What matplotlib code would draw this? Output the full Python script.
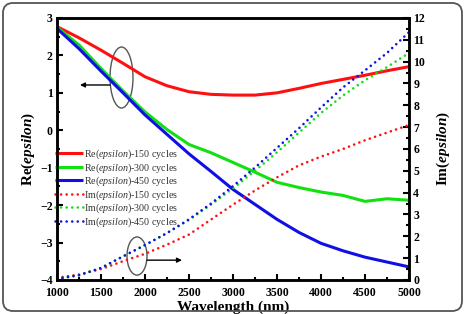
import matplotlib
matplotlib.use("Agg")
import matplotlib.pyplot as plt
from matplotlib.patches import Ellipse, FancyBboxPatch
from matplotlib.ticker import MultipleLocator

plt.rcParams['font.family'] = ['Liberation Serif', 'DejaVu Serif']
plt.rcParams['mathtext.fontset'] = 'custom'
plt.rcParams['mathtext.rm'] = 'Liberation Serif'
plt.rcParams['mathtext.it'] = 'Liberation Serif:italic'
plt.rcParams['mathtext.bf'] = 'Liberation Serif:bold'
plt.rcParams['mathtext.bfit'] = 'Liberation Serif:bold:italic'

# ---- data ----
wavelength = [1000, 1250, 1500, 1750, 2000, 2250, 2500, 2750, 3000,
              3250, 3500, 3750, 4000, 4250, 4500, 4750, 5000]
re_150 = [2.77, 2.47, 2.14, 1.79, 1.43, 1.19, 1.03, 0.96, 0.94,
          0.94, 1.00, 1.12, 1.25, 1.36, 1.47, 1.59, 1.70]
re_300 = [2.75, 2.28, 1.65, 1.05, 0.49, 0.02, -0.38, -0.60, -0.86,
          -1.12, -1.39, -1.53, -1.65, -1.74, -1.90, -1.83, -1.87]
re_450 = [2.72, 2.18, 1.58, 1.00, 0.41, -0.11, -0.63, -1.10, -1.58,
          -1.98, -2.38, -2.73, -3.02, -3.22, -3.39, -3.52, -3.65]
im_150 = [0.10, 0.25, 0.50, 0.86, 1.20, 1.62, 2.08, 2.77, 3.45,
          4.10, 4.70, 5.25, 5.65, 6.00, 6.40, 6.75, 7.10]
im_300 = [0.05, 0.22, 0.55, 1.08, 1.60, 2.15, 2.75, 3.45, 4.20,
          5.00, 5.85, 6.75, 7.65, 8.45, 9.15, 9.75, 10.40]
im_450 = [0.05, 0.22, 0.55, 1.08, 1.60, 2.15, 2.78, 3.50, 4.30,
          5.15, 6.05, 6.95, 7.90, 8.82, 9.60, 10.40, 11.35]

cycles = ['150', '300', '450']
colors = ['#ff1010', '#11e011', '#1010e6']

fig = plt.figure(figsize=(4.65, 3.14), dpi=100)
ax = fig.add_axes([0.1226, 0.1083, 0.7570, 0.8344])
ax2 = ax.twinx()

handles = []
for vals, c, n in zip([re_150, re_300, re_450], colors, cycles):
    h, = ax.plot(wavelength, vals, color=c, lw=2.2, solid_capstyle='butt',
                 label=r'Re($\mathit{epsilon}$)-' + n + ' cycles')
    handles.append(h)
for vals, c, n in zip([im_150, im_300, im_450], colors, cycles):
    h, = ax2.plot(wavelength, vals, color=c, lw=1.9, linestyle=(0, (0.01, 2.1)),
                  dash_capstyle='round',
                  label=r'Im($\mathit{epsilon}$)-' + n + ' cycles')
    handles.append(h)

ax.set_xlim(1000, 5000)
ax.set_ylim(-4, 3)
ax2.set_ylim(0, 12)

ax.xaxis.set_major_locator(MultipleLocator(500))
ax.xaxis.set_minor_locator(MultipleLocator(250))
ax.yaxis.set_major_locator(MultipleLocator(1))
ax.yaxis.set_minor_locator(MultipleLocator(0.5))
ax2.yaxis.set_major_locator(MultipleLocator(1))
ax2.yaxis.set_minor_locator(MultipleLocator(0.5))

for a in (ax, ax2):
    for s in a.spines.values():
        s.set_linewidth(1.8)
ax.tick_params(which='both', direction='in', width=1.5, top=False, right=False,
               labelsize=8.5)
ax.tick_params(axis='x', pad=5)
ax.tick_params(axis='y', pad=3)
ax.tick_params(which='major', length=4.5)
ax.tick_params(which='minor', length=2.5)
ax2.tick_params(which='both', direction='in', width=1.5, labelsize=8.5, pad=3)
ax2.tick_params(which='major', length=4.5)
ax2.tick_params(which='minor', length=2.5)
for lab in ax.get_xticklabels() + ax.get_yticklabels() + ax2.get_yticklabels():
    lab.set_fontweight('bold')

ax.set_xlabel('Wavelength (nm)', fontsize=11, fontweight='bold', labelpad=1)
ax.set_ylabel(r'Re($\mathbfit{epsilon}$)', fontsize=11, fontweight='bold', labelpad=2)
ax2.set_ylabel(r'Im($\mathbfit{epsilon}$)', fontsize=11, fontweight='bold', labelpad=7)

leg = ax.legend(handles=handles, loc='upper left', bbox_to_anchor=(-0.005, 0.505),
                frameon=False, fontsize=7.2, handlelength=2.8, handletextpad=0.1,
                labelspacing=0.0, borderpad=0, borderaxespad=0)
for t in leg.get_texts():
    t.set_color('#333333')

# annotation ellipses and arrows
ax.add_patch(Ellipse((1733, 1.41), 261, 1.63, fill=False, ec='#555555', lw=1.0))
ax.annotate('', xy=(1261, 1.21), xytext=(1602, 1.21),
            arrowprops=dict(arrowstyle='-|>', color='black', lw=1.0,
                            mutation_scale=7, shrinkA=0, shrinkB=0))
ax.add_patch(Ellipse((1909, -3.36), 227, 1.02, fill=False, ec='#555555', lw=1.0))
ax.annotate('', xy=(2420, -3.47), xytext=(2023, -3.47),
            arrowprops=dict(arrowstyle='-|>', color='black', lw=1.0,
                            mutation_scale=7, shrinkA=0, shrinkB=0))

# rounded outer border
border = FancyBboxPatch((0.03, 0.03), 4.59, 3.08,
                        boxstyle='round,pad=0,rounding_size=0.1',
                        transform=fig.dpi_scale_trans, fc='none', ec='#555555', lw=1.3)
fig.patches.append(border)

fig.savefig('out.png', dpi=100)
